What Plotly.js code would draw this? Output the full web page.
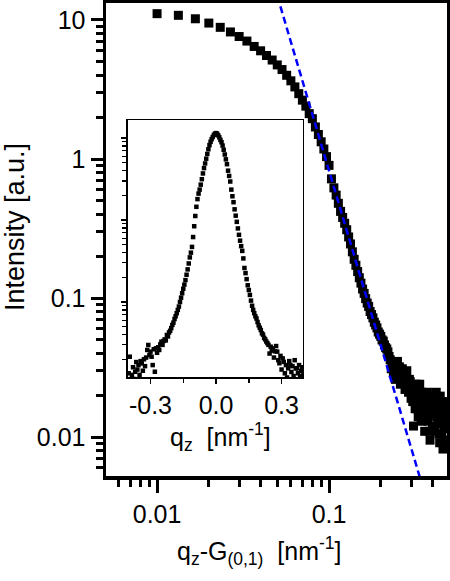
<!DOCTYPE html>
<html>
<head>
<meta charset="utf-8">
<script src="https://cdn.plot.ly/plotly-3.0.1.min.js"></script>
<style>
  body { margin: 0; background: #fff; }
  #chart { width: 450px; height: 581px; }
</style>
</head>
<body>
<div id="chart"></div>
<script>
'use strict';

// main curve: q_z - G(0,1) [nm^-1] vs intensity
var qx = [
  0.0100, 0.0133, 0.0167, 0.0200, 0.0233, 0.0267, 0.0300, 0.0333, 0.0367, 0.0400,
  0.0433, 0.0467, 0.0500, 0.0533, 0.0567, 0.0600, 0.0633, 0.0667, 0.0700, 0.0733,
  0.0767, 0.0800, 0.0833, 0.0867, 0.0900, 0.0933, 0.0967, 0.1000, 0.1033, 0.1067,
  0.1100, 0.1133, 0.1167, 0.1200, 0.1233, 0.1267, 0.1300, 0.1333, 0.1367, 0.1400,
  0.1433, 0.1467, 0.1500, 0.1533, 0.1567, 0.1600, 0.1633, 0.1667, 0.1700, 0.1733,
  0.1767, 0.1800, 0.1833, 0.1867, 0.1900, 0.1933, 0.1967, 0.2000, 0.2033, 0.2067,
  0.2100, 0.2133, 0.2167, 0.2200, 0.2233, 0.2267, 0.2300, 0.2333, 0.2367, 0.2400,
  0.2433, 0.2467, 0.2500, 0.2533, 0.2567, 0.2600, 0.2633, 0.2667, 0.2700, 0.2733,
  0.2767, 0.2800, 0.2833, 0.2867, 0.2900, 0.2933, 0.2967, 0.3000, 0.3033, 0.3067,
  0.3100, 0.3133, 0.3167, 0.3200, 0.3233, 0.3267, 0.3300, 0.3333, 0.3367, 0.3400,
  0.3433, 0.3467, 0.3500, 0.3533, 0.3567, 0.3600, 0.3633, 0.3667, 0.3700, 0.3733,
  0.3767, 0.3800, 0.3833, 0.3867, 0.3900, 0.3933, 0.3967, 0.4000, 0.4033, 0.4067,
  0.4100, 0.4133, 0.4167, 0.4200, 0.4233, 0.4267, 0.4300, 0.4333, 0.4367, 0.4400,
  0.4433, 0.4467, 0.4500, 0.4533, 0.4567, 0.4600, 0.4633, 0.4667, 0.4700, 0.4733,
  0.4767, 0.4800, 0.4833, 0.4867
];
var intensity = [
  11.1, 10.8, 10.2, 9.5, 8.85, 8.2, 7.6, 7.05, 6.45, 6.0,
  5.55, 5.15, 4.75, 4.4, 4.0, 3.65, 3.3, 2.95, 2.65, 2.4,
  2.12, 1.95, 1.70, 1.50, 1.33, 1.18, 1.04, 0.90, 0.72, 0.62,
  0.55, 0.48, 0.42, 0.38, 0.345, 0.31, 0.275, 0.245, 0.215, 0.19,
  0.172, 0.155, 0.14, 0.128, 0.116, 0.108, 0.099, 0.092, 0.087, 0.080,
  0.076, 0.072, 0.067, 0.064, 0.061, 0.057, 0.055, 0.053, 0.050, 0.049,
  0.046, 0.044, 0.043, 0.041, 0.038, 0.036, 0.031, 0.034, 0.029, 0.033,
  0.026, 0.030, 0.035, 0.027, 0.032, 0.024, 0.028, 0.031, 0.025, 0.029,
  0.022, 0.027, 0.030, 0.024, 0.021, 0.026, 0.025, 0.019, 0.023, 0.018,
  0.012, 0.021, 0.016, 0.024, 0.016, 0.020, 0.014, 0.022, 0.024, 0.018,
  0.013, 0.021, 0.017, 0.020, 0.015, 0.011, 0.019, 0.016, 0.0165, 0.021,
  0.013, 0.018, 0.011, 0.0095, 0.015, 0.019, 0.017, 0.012, 0.0145, 0.018,
  0.016, 0.011, 0.020, 0.021, 0.014, 0.017, 0.0125, 0.019, 0.0105, 0.0091,
  0.0197, 0.0136, 0.015, 0.0105, 0.018, 0.0082, 0.014, 0.0115, 0.017, 0.0095,
  0.013, 0.0155, 0.0088, 0.012
];

// power-law guide (dashed blue)
var fitX = [0.05, 0.35];
var fitY = [14.9, 0.0044];

// inset: full rocking curve vs q_z
var insetQ = [
  -0.400, -0.395, -0.390, -0.385, -0.380, -0.375, -0.370, -0.365, -0.360, -0.355,
  -0.350, -0.345, -0.340, -0.335, -0.330, -0.325, -0.320, -0.315, -0.310, -0.305,
  -0.300, -0.295, -0.290, -0.285, -0.280, -0.275, -0.270, -0.265, -0.260, -0.255,
  -0.250, -0.245, -0.240, -0.235, -0.230, -0.225, -0.220, -0.215, -0.210, -0.205,
  -0.200, -0.195, -0.190, -0.185, -0.180, -0.175, -0.170, -0.165, -0.160, -0.155,
  -0.150, -0.145, -0.140, -0.135, -0.130, -0.125, -0.120, -0.115, -0.110, -0.105,
  -0.100, -0.095, -0.090, -0.085, -0.080, -0.075, -0.070, -0.065, -0.060, -0.055,
  -0.050, -0.045, -0.040, -0.035, -0.030, -0.025, -0.020, -0.015, -0.010, -0.005,
  0.000,
  0.005, 0.010, 0.015, 0.020, 0.025, 0.030, 0.035, 0.040, 0.045, 0.050,
  0.055, 0.060, 0.065, 0.070, 0.075, 0.080, 0.085, 0.090, 0.095, 0.100,
  0.105, 0.110, 0.115, 0.120, 0.125, 0.130, 0.135, 0.140, 0.145, 0.150,
  0.155, 0.160, 0.165, 0.170, 0.175, 0.180, 0.185, 0.190, 0.195, 0.200,
  0.205, 0.210, 0.215, 0.220, 0.225, 0.230, 0.235, 0.240, 0.245, 0.250,
  0.255, 0.260, 0.265, 0.270, 0.275, 0.280, 0.285, 0.290, 0.295, 0.300,
  0.305, 0.310, 0.315, 0.320, 0.325, 0.330, 0.335, 0.340, 0.345, 0.350,
  0.355, 0.360, 0.365, 0.370, 0.375, 0.380, 0.385, 0.390, 0.395, 0.400
];
var insetI = [
  13.5, 21.5, 11.0, 12.9, 16.0, 11.5, 14.1, 18.5, 15.0, 17.0,
  12.9, 19.0, 17.8, 14.5, 20.0, 16.5, 21.0, 26.0, 29.9, 22.5,
  24.8, 21.5, 17.0, 26.5, 14.1, 27.2, 24.0, 28.0, 26.0, 30.5,
  32.8, 30.0, 33.5, 35.0, 34.0, 39.6, 38.0, 42.5, 44.5, 48.0,
  52.5, 56.0, 62.0, 67.0, 73.0, 80.0, 88.0, 100, 113, 128,
  145, 163, 185, 215, 250, 295, 350, 400, 470, 620,
  840, 1120, 1450, 1800, 2100, 2350, 2700, 3150, 3700, 4300,
  4900, 5600, 6400, 7300, 8200, 9000, 9700, 10300, 10900, 11300,
  11500,
  11300, 10800, 10200, 9500, 8900, 8100, 7200, 6300, 5500, 4800,
  4000, 3450, 2950, 2350, 1950, 1650, 1350, 1130, 950, 790,
  660, 560, 480, 420, 340, 260, 225, 190, 160, 140,
  122, 104, 90, 80, 73, 67, 63, 57, 52, 48.5,
  45.5, 41.5, 40.0, 36.5, 35.0, 33.0, 31.5, 30.0, 23.5, 28.5,
  25.5, 27.2, 21.0, 25.0, 29.0, 24.8, 19.5, 17.9, 22.0, 15.0,
  20.5, 18.6, 13.5, 17.0, 12.0, 15.5, 19.0, 17.0, 14.0, 16.5,
  12.5, 19.5, 15.5, 15.5, 13.5, 17.0, 12.5, 14.5, 16.0, 13.0
];

// tick labels
var mainXTicks = [0.01, 0.1];
var mainXLabels = ['0.01', '0.1'];
var mainXMinor = [0.006, 0.007, 0.008, 0.009, 0.02, 0.03, 0.04, 0.05, 0.06, 0.07, 0.08, 0.09, 0.2, 0.3, 0.4];
var mainYTicks = [0.01, 0.1, 1, 10];
var mainYLabels = ['0.01', '0.1', '1', '10'];
var mainYMinor = [0.006, 0.007, 0.008, 0.009, 0.02, 0.03, 0.04, 0.05, 0.06, 0.07, 0.08, 0.09,
  0.2, 0.3, 0.4, 0.5, 0.6, 0.7, 0.8, 0.9, 2, 3, 4, 5, 6, 7, 8, 9];
var insetXTicks = [-0.3, 0, 0.3];
var insetXLabels = ['-0.3', '0.0', '0.3'];
var insetXMinor = [-0.15, 0.15];
var insetYTicks = [100, 1000, 10000];
var insetYMinor = [20, 30, 40, 50, 60, 70, 80, 90, 200, 300, 400, 500, 600, 700, 800, 900,
  2000, 3000, 4000, 5000, 6000, 7000, 8000, 9000];

var FONT = 'Liberation Sans, Arial, sans-serif';

var data = [
  {
    x: qx, y: intensity,
    xaxis: 'x', yaxis: 'y',
    mode: 'markers', type: 'scatter',
    marker: {symbol: 'square', size: 9, color: 'black'}
  },
  {
    x: fitX, y: fitY,
    xaxis: 'x', yaxis: 'y',
    mode: 'lines', type: 'scatter',
    line: {color: '#0000ff', width: 2.5, dash: '7px,4px'}
  },
  {
    x: insetQ, y: insetI,
    xaxis: 'x2', yaxis: 'y2',
    mode: 'markers', type: 'scatter',
    marker: {symbol: 'square', size: 4.5, color: 'black'}
  }
];

var layout = {
  width: 450,
  height: 581,
  margin: {l: 106, r: 3, t: 3, b: 105},
  showlegend: false,
  paper_bgcolor: 'white',
  plot_bgcolor: 'white',
  font: {family: FONT, size: 25, color: 'black'},
  xaxis: {
    type: 'log',
    range: [-2.297, -0.314],
    domain: [0, 1],
    anchor: 'y',
    tickmode: 'array', tickvals: mainXTicks, ticktext: mainXLabels,
    ticks: 'outside', ticklen: 13, tickwidth: 3, tickcolor: 'black',
    minor: {tickmode: 'array', tickvals: mainXMinor, ticks: 'outside', ticklen: 7, tickwidth: 3, tickcolor: 'black'},
    showline: true, linewidth: 3.5, linecolor: 'black', mirror: true,
    showgrid: false, zeroline: false,
    tickfont: {size: 25}
  },
  yaxis: {
    type: 'log',
    range: [-2.28, 1.122],
    domain: [0, 1],
    anchor: 'x',
    tickmode: 'array', tickvals: mainYTicks, ticktext: mainYLabels,
    ticks: 'outside', ticklen: 12, tickwidth: 3, tickcolor: 'black',
    minor: {tickmode: 'array', tickvals: mainYMinor, ticks: 'outside', ticklen: 7, tickwidth: 3, tickcolor: 'black'},
    showline: true, linewidth: 3.5, linecolor: 'black', mirror: true,
    showgrid: false, zeroline: false,
    tickfont: {size: 25}
  },
  xaxis2: {
    range: [-0.403, 0.398],
    domain: [0.0645, 0.5777],
    anchor: 'y2',
    tickmode: 'array', tickvals: insetXTicks, ticktext: insetXLabels,
    ticks: 'outside', ticklen: 5, tickwidth: 1.5, tickcolor: 'black',
    minor: {tickmode: 'array', tickvals: insetXMinor, ticks: 'outside', ticklen: 4, tickwidth: 1.5, tickcolor: 'black'},
    showline: true, linewidth: 1.5, linecolor: 'black', mirror: true,
    showgrid: false, zeroline: false,
    tickfont: {size: 25}
  },
  yaxis2: {
    type: 'log',
    range: [1.085, 4.22],
    domain: [0.2093, 0.7526],
    anchor: 'x2',
    tickmode: 'array', tickvals: insetYTicks,
    showticklabels: false,
    ticks: 'outside', ticklen: 5, tickwidth: 1.5, tickcolor: 'black',
    minor: {tickmode: 'array', tickvals: insetYMinor, ticks: 'outside', ticklen: 4, tickwidth: 1.2, tickcolor: 'black'},
    showline: true, linewidth: 1.5, linecolor: 'black', mirror: true,
    showgrid: false, zeroline: false
  },
  annotations: [
    {
      text: 'q<sub>z</sub>-G<sub>(0,1)</sub>  [nm<sup>-1</sup>]',
      xref: 'paper', yref: 'paper',
      x: 0.4516, y: -0.1586, xanchor: 'center', yanchor: 'middle',
      showarrow: false, font: {size: 25}
    },
    {
      text: 'Intensity [a.u.]',
      xref: 'paper', yref: 'paper',
      x: -0.2669, y: 0.5264, xanchor: 'center', yanchor: 'middle',
      textangle: -90, showarrow: false, font: {size: 27}
    },
    {
      text: 'q<sub>z</sub>  [nm<sup>-1</sup>]',
      xref: 'paper', yref: 'paper',
      x: 0.3372, y: 0.0825, xanchor: 'center', yanchor: 'middle',
      showarrow: false, font: {size: 25}
    }
  ]
};

Plotly.newPlot('chart', data, layout, {displayModeBar: false, staticPlot: true});
</script>
</body>
</html>
